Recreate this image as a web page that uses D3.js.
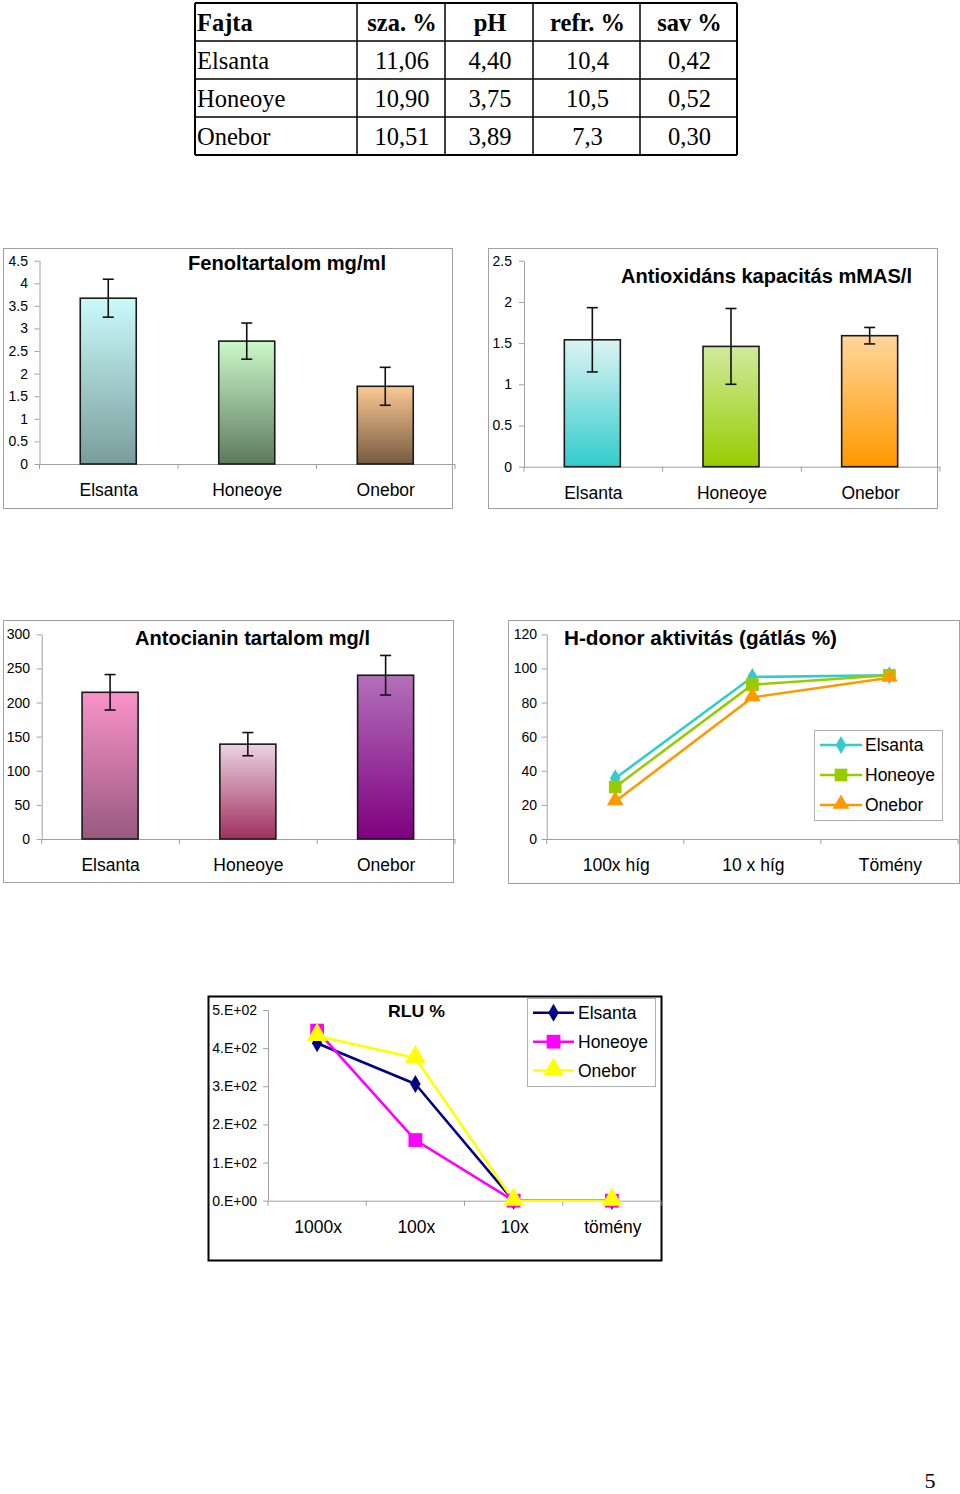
<!DOCTYPE html>
<html><head><meta charset="utf-8">
<script src="https://cdn.jsdelivr.net/npm/d3@7"></script>
<style>body{margin:0;background:#fff}svg{display:block}</style>
</head><body><svg id="c" width="960" height="1494"></svg>
<script>
// ---------- DATA ----------
const varieties = ["Elsanta", "Honeoye", "Onebor"];

const tableHeader = ["Fajta", "sza. %", "pH", "refr. %", "sav %"];
const tableRows = [
  ["Elsanta", "11,06", "4,40", "10,4", "0,42"],
  ["Honeoye", "10,90", "3,75", "10,5", "0,52"],
  ["Onebor", "10,51", "3,89", "7,3", "0,30"]
];

const fenolTitle = "Fenoltartalom mg/ml";
const fenolValues = [3.67, 2.72, 1.72];
const fenolErrors = [0.42, 0.40, 0.42];
const fenolTicks = [0, 0.5, 1, 1.5, 2, 2.5, 3, 3.5, 4, 4.5];
const fenolTickLabels = ["0", "0.5", "1", "1.5", "2", "2.5", "3", "3.5", "4", "4.5"];

const antioxTitle = "Antioxidáns kapacitás mMAS/l";
const antioxValues = [1.54, 1.46, 1.59];
const antioxErrors = [0.39, 0.46, 0.10];
const antioxTicks = [0, 0.5, 1, 1.5, 2, 2.5];
const antioxTickLabels = ["0", "0.5", "1", "1.5", "2", "2.5"];

const antocTitle = "Antocianin tartalom mg/l";
const antocValues = [215, 139, 240];
const antocErrors = [26, 17, 29];
const antocTicks = [0, 50, 100, 150, 200, 250, 300];
const antocTickLabels = ["0", "50", "100", "150", "200", "250", "300"];

const hdonorTitle = "H-donor aktivitás (gátlás %)";
const hdonorCategories = ["100x híg", "10 x híg", "Tömény"];
const hdonorElsanta = [35.6, 95, 96];
const hdonorHoneoye = [30.5, 90.5, 96];
const hdonorOnebor = [22, 83, 94.5];
const hdonorTicks = [0, 20, 40, 60, 80, 100, 120];
const hdonorTickLabels = ["0", "20", "40", "60", "80", "100", "120"];

const rluTitle = "RLU %";
const rluCategories = ["1000x", "100x", "10x", "tömény"];
const rluElsanta = [413, 306, 0, 0];
const rluHoneoye = [446, 159, 0, 0];
const rluOnebor = [432, 374, 0, 0];
const rluTicks = [0, 100, 200, 300, 400, 500];
const rluTickLabels = ["0.E+00", "1.E+02", "2.E+02", "3.E+02", "4.E+02", "5.E+02"];

const pageNumber = "5";

// ---------- SETUP ----------
const SANS = "'Liberation Sans', Arial, sans-serif";
const SERIF = "'Liberation Serif', 'Times New Roman', serif";
const svg = d3.select("#c");
svg.append("rect").attr("width", 960).attr("height", 1494).attr("fill", "#fff");
const defs = svg.append("defs");

function gradient(id, top, bottom) {
  const g = defs.append("linearGradient").attr("id", id)
    .attr("x1", 0).attr("y1", 0).attr("x2", 0).attr("y2", 1);
  g.append("stop").attr("offset", 0).attr("stop-color", top);
  g.append("stop").attr("offset", 1).attr("stop-color", bottom);
  return "url(#" + id + ")";
}

// ---------- TABLE ----------
(function table() {
  const colEdges = [195, 357, 445, 533, 640, 737];
  const rowEdges = [3, 41, 79, 117, 155];
  const g = svg.append("g");
  const all = [tableHeader].concat(tableRows);
  rowEdges.forEach((y, i) => g.append("line").attr("x1", colEdges[0]).attr("x2", colEdges[5])
    .attr("y1", y).attr("y2", y).attr("stroke", "#000").attr("stroke-width", (i === 0 || i === 4) ? 2 : 1.5));
  colEdges.forEach((x, i) => g.append("line").attr("y1", rowEdges[0]).attr("y2", rowEdges[4])
    .attr("x1", x).attr("x2", x).attr("stroke", "#000").attr("stroke-width", (i === 0 || i === 5) ? 2 : 1.5));
  all.forEach((row, r) => {
    row.forEach((cell, c) => {
      const t = g.append("text").text(cell)
        .attr("y", rowEdges[r] + 28)
        .attr("font-family", SERIF).attr("font-size", 24.5)
        .attr("font-weight", r === 0 ? "bold" : "normal").attr("fill", "#000");
      if (c === 0) t.attr("x", colEdges[0] + 2);
      else t.attr("x", (colEdges[c] + colEdges[c + 1]) / 2 + 1).attr("text-anchor", "middle");
    });
  });
})();

// ---------- BAR CHART ----------
function barChart(o) {
  const g = svg.append("g");
  g.append("rect").attr("x", o.frame[0] + 0.5).attr("y", o.frame[1] + 0.5)
    .attr("width", o.frame[2] - o.frame[0]).attr("height", o.frame[3] - o.frame[1])
    .attr("fill", "#fff").attr("stroke", "#a0a0a0").attr("stroke-width", 1);
  const y = d3.scaleLinear().domain([0, o.ticks[o.ticks.length - 1]]).range([o.y0, o.yTop]);
  const x = d3.scaleBand().domain(varieties).range([o.x0, o.x1]).paddingInner(0).paddingOuter(0);

  const ya = g.append("g").attr("transform", `translate(${o.x0},0)`)
    .call(d3.axisLeft(y).tickValues(o.ticks).tickFormat((d, i) => o.tickLabels[i])
      .tickSize(5).tickSizeOuter(0).tickPadding(o.pad));
  ya.select(".domain").attr("stroke", "#a0a0a0");
  ya.selectAll(".tick line").attr("stroke", "#a0a0a0");
  ya.selectAll(".tick text").attr("font-family", SANS).attr("font-size", 14).attr("fill", "#000");

  g.append("line").attr("x1", o.x0).attr("x2", o.x1).attr("y1", o.y0 + 0.5).attr("y2", o.y0 + 0.5)
    .attr("stroke", "#a0a0a0");
  const bounds = varieties.map(v => x(v)).concat([x(varieties[2]) + x.step()]);
  g.selectAll(".xt").data(bounds).enter().append("line")
    .attr("x1", d => d).attr("x2", d => d).attr("y1", o.y0).attr("y2", o.y0 + 5).attr("stroke", "#a0a0a0");
  g.selectAll(".xl").data(varieties).enter().append("text")
    .attr("x", d => x(d) + x.step() / 2).attr("y", o.y0 + 32).attr("text-anchor", "middle")
    .attr("font-family", SANS).attr("font-size", 17.5).attr("fill", "#000").text(d => d);

  const bw = 56;
  varieties.forEach((v, i) => {
    const cx = x(v) + x.step() / 2 + o.shift;
    g.append("rect").attr("x", cx - bw / 2).attr("y", y(o.values[i]))
      .attr("width", bw).attr("height", y(0) - y(o.values[i]))
      .attr("fill", gradient(o.id + i, o.colors[i][0], o.colors[i][1]))
      .attr("stroke", "#1a1a1a").attr("stroke-width", 1.6);
    const hi = y(o.values[i] + o.errors[i]), lo = y(o.values[i] - o.errors[i]);
    g.append("line").attr("x1", cx).attr("x2", cx).attr("y1", hi).attr("y2", lo).attr("stroke", "#111").attr("stroke-width", 1.6);
    [hi, lo].forEach(yy => g.append("line").attr("x1", cx - 5.5).attr("x2", cx + 5.5).attr("y1", yy).attr("y2", yy)
      .attr("stroke", "#111").attr("stroke-width", 1.6));
  });

  g.append("text").text(o.title).attr("x", o.titleX).attr("y", o.titleY)
    .attr("font-family", SANS).attr("font-weight", "bold").attr("font-size", o.titleSize)
    .attr("textLength", o.titleW).attr("lengthAdjust", "spacingAndGlyphs").attr("fill", "#000");
}

barChart({
  id: "fen", frame: [3, 248, 452, 508], x0: 39.5, x1: 455, y0: 464, yTop: 260.7, pad: 6.5, shift: -0.5,
  ticks: fenolTicks, tickLabels: fenolTickLabels, values: fenolValues, errors: fenolErrors,
  colors: [["#CAFAFA", "#7A9D9D"], ["#CBF9CB", "#5D7A5D"], ["#FAC992", "#785A42"]],
  title: fenolTitle, titleX: 188, titleY: 270, titleSize: 20, titleW: 198
});
barChart({
  id: "anx", frame: [488, 248, 937, 508], x0: 524, x1: 940, y0: 466.7, yTop: 260.7, pad: 7, shift: -1,
  ticks: antioxTicks, tickLabels: antioxTickLabels, values: antioxValues, errors: antioxErrors,
  colors: [["#DDF3F3", "#33CCCC"], ["#D0EA9E", "#99CC00"], ["#FFD69C", "#FF9900"]],
  title: antioxTitle, titleX: 621, titleY: 283, titleSize: 20, titleW: 291
});
barChart({
  id: "anc", frame: [3, 620, 453, 882], x0: 41.7, x1: 455, y0: 839, yTop: 634.3, pad: 6.7, shift: -0.5,
  ticks: antocTicks, tickLabels: antocTickLabels, values: antocValues, errors: antocErrors,
  colors: [["#F992C8", "#985A7E"], ["#EBD3E2", "#A0305F"], ["#B270B9", "#800080"]],
  title: antocTitle, titleX: 135, titleY: 645, titleSize: 20, titleW: 235
});

// ---------- LINE CHART ----------
function lineChart(o) {
  const g = svg.append("g");
  g.append("rect").attr("x", o.frame[0] + 0.5).attr("y", o.frame[1] + 0.5)
    .attr("width", o.frame[2] - o.frame[0]).attr("height", o.frame[3] - o.frame[1])
    .attr("fill", "#fff").attr("stroke", o.frameColor).attr("stroke-width", o.frameW);
  const y = d3.scaleLinear().domain([0, o.ticks[o.ticks.length - 1]]).range([o.y0, o.yTop]);
  const x = d3.scaleBand().domain(o.categories).range([o.x0, o.x1]).paddingInner(0).paddingOuter(0);

  const ya = g.append("g").attr("transform", `translate(${o.x0},0)`)
    .call(d3.axisLeft(y).tickValues(o.ticks).tickFormat((d, i) => o.tickLabels[i])
      .tickSize(5).tickSizeOuter(0).tickPadding(o.pad));
  ya.select(".domain").attr("stroke", "#a0a0a0");
  ya.selectAll(".tick line").attr("stroke", "#a0a0a0");
  ya.selectAll(".tick text").attr("font-family", SANS).attr("font-size", 14).attr("fill", "#000");

  g.append("line").attr("x1", o.x0).attr("x2", o.x1).attr("y1", o.y0 + 0.5).attr("y2", o.y0 + 0.5).attr("stroke", "#a0a0a0");
  const bounds = o.categories.map(v => x(v)).concat([o.x1]);
  g.selectAll(".xt").data(bounds).enter().append("line")
    .attr("x1", d => d).attr("x2", d => d).attr("y1", o.y0).attr("y2", o.y0 + 5).attr("stroke", "#a0a0a0");
  g.selectAll(".xl").data(o.categories).enter().append("text")
    .attr("x", d => x(d) + x.step() / 2 + 1).attr("y", o.y0 + o.labelDy).attr("text-anchor", "middle")
    .attr("font-family", SANS).attr("font-size", 17.5).attr("fill", "#000").text(d => d);

  const line = d3.line().x((d, i) => x(o.categories[i]) + x.step() / 2).y(d => y(d));
  o.series.forEach(s => {
    g.append("path").datum(s.values).attr("d", line).attr("fill", "none")
      .attr("stroke", s.color).attr("stroke-width", 2.6).attr("stroke-linejoin", "round");
  });
  o.series.forEach(s => {
    s.values.forEach((v, i) => {
      g.append("path").attr("d", d3.symbol().type(s.symbol).size(s.size)())
        .attr("transform", `translate(${x(o.categories[i]) + x.step() / 2},${y(v) + (s.symbol === d3.symbolTriangle ? -1 : 0)})`)
        .attr("fill", s.color);
    });
  });

  const L = o.legend;
  g.append("rect").attr("x", L.box[0] + 0.5).attr("y", L.box[1] + 0.5)
    .attr("width", L.box[2] - L.box[0]).attr("height", L.box[3] - L.box[1])
    .attr("fill", "#fff").attr("stroke", "#b0b0b0");
  o.series.forEach((s, i) => {
    const yy = L.ys[i];
    g.append("line").attr("x1", L.lx0).attr("x2", L.lx1).attr("y1", yy).attr("y2", yy)
      .attr("stroke", s.color).attr("stroke-width", 2.6);
    g.append("path").attr("d", d3.symbol().type(s.symbol).size(s.size)())
      .attr("transform", `translate(${(L.lx0 + L.lx1) / 2},${yy + (s.symbol === d3.symbolTriangle ? -1 : 0)})`).attr("fill", s.color);
    g.append("text").text(s.name).attr("x", L.tx).attr("y", yy + 6)
      .attr("font-family", SANS).attr("font-size", 17.5).attr("fill", "#000");
  });

  g.append("text").text(o.title).attr("x", o.titleX).attr("y", o.titleY)
    .attr("font-family", SANS).attr("font-weight", "bold").attr("font-size", o.titleSize)
    .attr("textLength", o.titleW).attr("lengthAdjust", "spacingAndGlyphs").attr("fill", "#000");
}

lineChart({
  frame: [508, 620, 959, 883], frameColor: "#a0a0a0", frameW: 1,
  x0: 546.7, x1: 958, y0: 839, yTop: 634.3, pad: 4.7, labelDy: 32,
  categories: hdonorCategories, ticks: hdonorTicks, tickLabels: hdonorTickLabels,
  series: [
    { name: "Elsanta", values: hdonorElsanta, color: "#33CCCC", symbol: d3.symbolDiamond, size: 95 },
    { name: "Honeoye", values: hdonorHoneoye, color: "#99CC00", symbol: d3.symbolSquare, size: 160 },
    { name: "Onebor", values: hdonorOnebor, color: "#FF9900", symbol: d3.symbolTriangle, size: 120 }
  ],
  legend: { box: [814, 730, 942, 820], ys: [745, 775, 805], lx0: 820, lx1: 862, tx: 865 },
  title: hdonorTitle, titleX: 564, titleY: 645, titleSize: 20, titleW: 273
});

lineChart({
  frame: [208, 996, 661, 1260], frameColor: "#000", frameW: 2,
  x0: 268, x1: 661, y0: 1200.7, yTop: 1010, pad: 6, labelDy: 32,
  categories: rluCategories, ticks: rluTicks, tickLabels: rluTickLabels,
  series: [
    { name: "Elsanta", values: rluElsanta, color: "#000080", symbol: d3.symbolDiamond, size: 95 },
    { name: "Honeoye", values: rluHoneoye, color: "#FF00FF", symbol: d3.symbolSquare, size: 190 },
    { name: "Onebor", values: rluOnebor, color: "#FFFF00", symbol: d3.symbolTriangle, size: 190 }
  ],
  legend: { box: [527, 998, 655, 1086], ys: [1012.7, 1041.7, 1070.5], lx0: 533, lx1: 574, tx: 578 },
  title: rluTitle, titleX: 388, titleY: 1016.5, titleSize: 17, titleW: 57
});

// page number
svg.append("text").text(pageNumber).attr("x", 930).attr("y", 1488).attr("text-anchor", "middle")
  .attr("font-family", SERIF).attr("font-size", 22).attr("fill", "#000");
</script>
</body></html>
